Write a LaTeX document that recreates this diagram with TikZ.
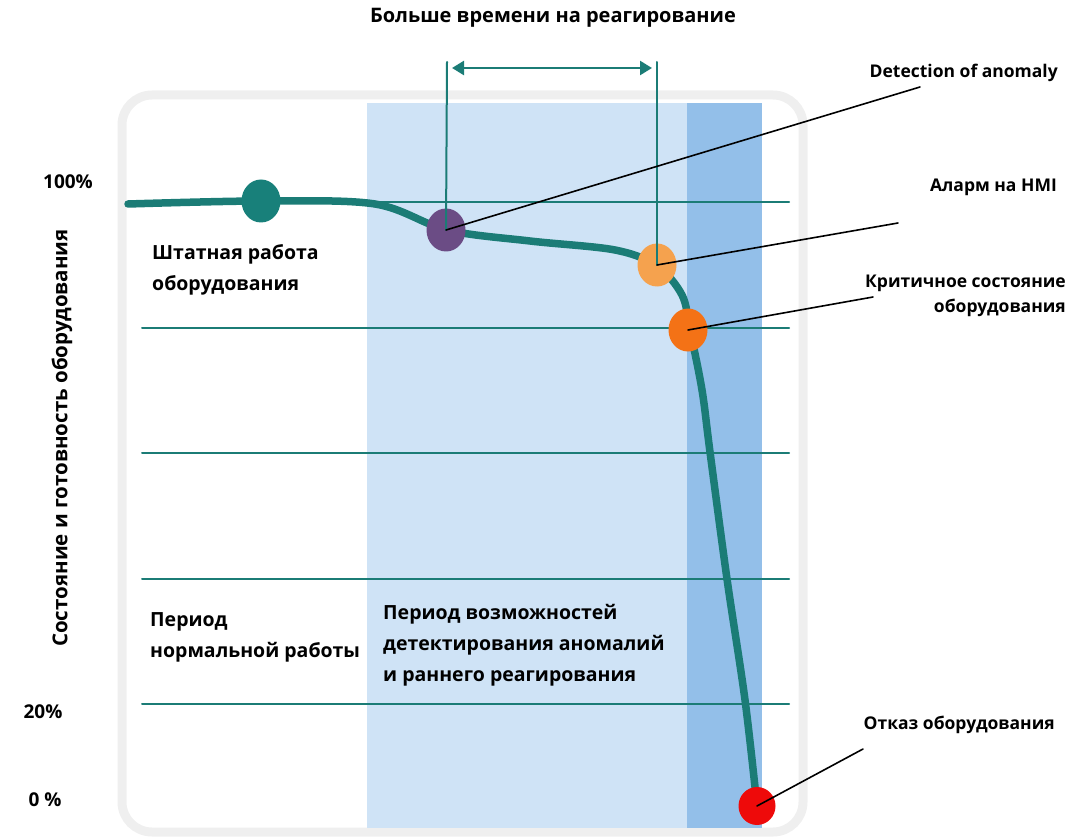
\documentclass[tikz,border=0pt]{standalone}
\usepackage{fontspec}
\setmainfont{Open Sans}
\usetikzlibrary{arrows.meta}
\usetikzlibrary{shapes.geometric}
\definecolor{teal1}{HTML}{1B7C76}
\definecolor{bandlight}{HTML}{CFE3F6}
\definecolor{banddark}{HTML}{93BFE9}
\definecolor{framegray}{HTML}{EFEFEF}
\definecolor{dotteal}{HTML}{18807A}
\definecolor{dotpurple}{HTML}{6B4C85}
\definecolor{dotlorange}{HTML}{F5A24E}
\definecolor{dotorange}{HTML}{F47216}
\definecolor{dotred}{HTML}{EE0A0A}

\begin{document}
\begin{tikzpicture}[x=1pt, y=-1pt, line cap=round, line join=round,
  dot/.style={ellipse, minimum width=39, minimum height=43, inner sep=0pt},
  lbl/.style={font=\bfseries\fontsize{17.5}{24}\selectfont, inner sep=0pt},
  txt/.style={font=\bfseries\fontsize{19.5}{31}\selectfont, align=left, inner sep=0pt, anchor=west},
  leader/.style={black, line width=1.6pt}]

\useasboundingbox (0,0) rectangle (1071,837);

% frame and bands
\draw[framegray, line width=9pt, rounded corners=30pt] (122,95) rectangle (803,832);
\fill[bandlight] (367,103) rectangle (687,828);
\fill[banddark] (687,103) rectangle (762,828);

% grid lines
\draw[teal1, line width=2pt] (300,202) -- (789,202);
\foreach \yy in {328,453,579,704}
  \draw[teal1, line width=2pt] (142,\yy) -- (789,\yy);

% curve
\draw[teal1, line width=7.5pt] plot[smooth, tension=0.55] coordinates {(128,204) (261,201) (375,204) (447,230) (530,241) (615,250) (657,266) (682,295) (690,330) (702,390) (710,452) (727,579) (745,700) (757,806)};

% circles
\node[dot, fill=dotteal] (normal) at (261,201) {};
\node[dot, fill=dotpurple] (detect) at (446,230) {};
\node[dot, fill=dotlorange] (alarm) at (657,265) {};
\node[dot, fill=dotorange] (crit) at (688,330) {};
\node[dot, fill=dotred, minimum width=37, minimum height=38] (fail) at (757,806) {};

% reaction time
\coordinate (tl) at (447,62);
\coordinate (tr) at (657,62);
\draw[teal1, line width=2pt] (tl) -- (detect.center);
\draw[teal1, line width=2pt] (tr) -- (alarm.center);
\draw[{Triangle[length=12pt,width=14pt]}-{Triangle[length=12pt,width=14pt]}, teal1, line width=2.5pt] (452,68) -- (652,68);
\node[lbl, font=\bfseries\fontsize{20}{24}\selectfont] (more) at (553,18) {Больше времени на реагирование};

% right labels
\node[lbl, anchor=east] (detlbl) at (1058,73) {Detection of anomaly};
\node[lbl, anchor=east] (alarmlbl) at (1057,187) {Аларм на HMI};
\node[lbl, anchor=east, align=right, font=\bfseries\fontsize{17.5}{25}\selectfont] (critlbl) at (1066,296) {Критичное состояние\\оборудования};
\node[lbl, anchor=east] (faillbl) at (1055,725) {Отказ оборудования};

\coordinate (detEnd) at (920,87);
\coordinate (alarmEnd) at (898,223);
\coordinate (critEnd) at (873,297);
\coordinate (failEnd) at (863,749);
\draw[leader] (detect.center) -- (detEnd);
\draw[leader] (alarm.center) -- (alarmEnd);
\draw[leader] (crit.center) -- (critEnd);
\draw[leader] (fail.center) -- (failEnd);

% axis
\node[lbl, font=\bfseries\fontsize{19}{24}\selectfont] (p100) at (68,182) {100\%};
\node[lbl, font=\bfseries\fontsize{19}{24}\selectfont] (p20) at (43,712) {20\%};
\node[lbl, font=\bfseries\fontsize{19}{24}\selectfont] (p0) at (45,800) {0 \%};
\node[lbl, rotate=90, font=\bfseries\fontsize{20.5}{24}\selectfont] (yaxis) at (62,438) {Состояние и готовность оборудования};

% texts in the plot
\node[txt] (normaltxt) at (152,270) {Штатная работа\\оборудования};
\node[txt] (periodnorm) at (150,637) {Период\\нормальной работы};
\node[txt] (perioddet) at (383,645) {Период возможностей\\детектирования аномалий\\и раннего реагирования};

\end{tikzpicture}
\end{document}
